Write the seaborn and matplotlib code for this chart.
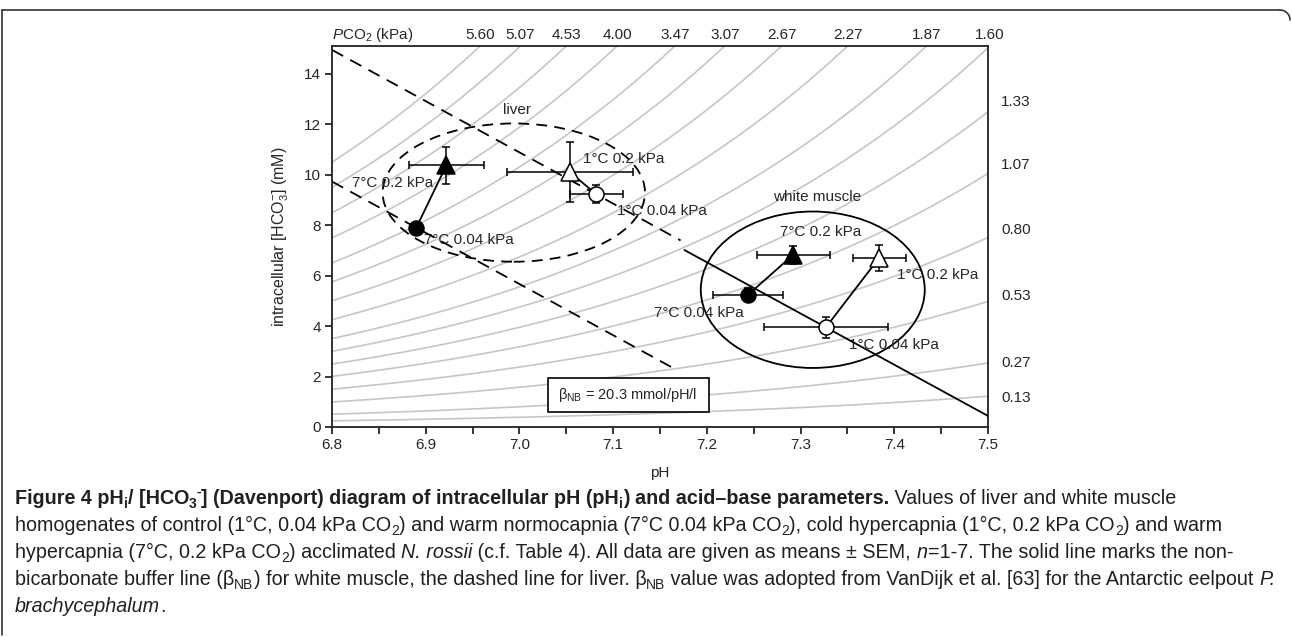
import numpy as np
import pandas as pd
import matplotlib
matplotlib.use("Agg")
import matplotlib.pyplot as plt
import seaborn as sns
from matplotlib.patches import Ellipse, Rectangle
from matplotlib.lines import Line2D
from matplotlib import font_manager

# ---------------- data ----------------
pco2_top = [5.60, 5.07, 4.53, 4.00, 3.47, 3.07, 2.67, 2.27, 1.87, 1.60]
pco2_right = [1.33, 1.07, 0.80, 0.53, 0.27, 0.13]
right_label_y = [12.9, 10.4, 7.8, 5.2, 2.55, 1.15]
pK = 6.0
alpha = 0.297         # mM / kPa
beta_nb = 20.3        # mmol/pH/l

cond_labels = ["7°C 0.04 kPa", "7°C 0.2 kPa", "1°C 0.2 kPa", "1°C 0.04 kPa"]
cond_marker = ["o", "^", "^", "o"]
cond_fill = ["black", "black", "white", "white"]

liver_ph = [6.890, 6.922, 7.054, 7.082]
liver_ph_sem = [0.0, 0.040, 0.067, 0.028]
liver_hco3 = [7.90, 10.37, 10.10, 9.22]
liver_hco3_sem = [0.0, 0.73, 1.18, 0.36]

muscle_ph = [7.244, 7.292, 7.384, 7.327]
muscle_ph_sem = [0.037, 0.039, 0.028, 0.066]
muscle_hco3 = [5.24, 6.82, 6.71, 3.95]
muscle_hco3_sem = [0.25, 0.36, 0.51, 0.42]

# ---------------- style ----------------
sns.set_theme(style="white")
plt.rcParams["font.family"] = ["Liberation Sans", "DejaVu Sans"]
plt.rcParams["mathtext.fontset"] = "custom"
plt.rcParams["mathtext.rm"] = "Liberation Sans"
plt.rcParams["mathtext.it"] = "Liberation Sans:italic"
plt.rcParams["mathtext.bf"] = "Liberation Sans:bold"

W, H = 1292, 637
fig = plt.figure(figsize=(W / 100, H / 100), dpi=100)
fig.patch.set_facecolor("white")
ax = fig.add_axes([332 / W, 1 - 427 / H, (988 - 332) / W, (427 - 46) / H])

XMIN, XMAX, YMIN, YMAX = 6.8, 7.5, 0.0, 15.1

# isopleths
ph_grid = np.linspace(XMIN, XMAX, 200)
rows = []
for P in pco2_top + pco2_right:
    for p in ph_grid:
        rows.append((p, alpha * P * 10 ** (p - pK), P))
iso = pd.DataFrame(rows, columns=["pH", "HCO3", "PCO2"])
sns.lineplot(data=iso, x="pH", y="HCO3", units="PCO2", estimator=None,
             color="#c6c6c6", lw=1.2, ax=ax, sort=False, legend=False, zorder=1)

# buffer lines
def buffer_line(p0, h0, x1, x2):
    xs = np.array([x1, x2])
    return xs, h0 - beta_nb * (xs - p0)

dash = (0, (7, 4.5))
xs, ys = buffer_line(liver_ph[3], liver_hco3[3], 6.8, 7.172)
sns.lineplot(x=xs, y=ys, color="black", lw=1.3, ax=ax, linestyle=dash, zorder=3)
xs, ys = buffer_line(liver_ph[0], liver_hco3[0], 6.8, 7.165)
sns.lineplot(x=xs, y=ys, color="black", lw=1.3, ax=ax, linestyle=dash, zorder=3)
xs, ys = buffer_line(muscle_ph[3], muscle_hco3[3], 7.176, 7.5)
sns.lineplot(x=xs, y=ys, color="black", lw=1.3, ax=ax, zorder=3)

# ellipses
ax.add_patch(Ellipse((6.994, 9.29), 0.28, 5.48, fill=False, ec="black",
                     lw=1.3, linestyle=(0, (6, 4)), zorder=2))
ax.add_patch(Ellipse((7.313, 5.44), 0.239, 6.2, fill=False, ec="black",
                     lw=1.3, zorder=2))

# connecting lines + points
for phs, phe, hc, hce in [(liver_ph, liver_ph_sem, liver_hco3, liver_hco3_sem),
                          (muscle_ph, muscle_ph_sem, muscle_hco3, muscle_hco3_sem)]:
    ax.plot([phs[0], phs[1]], [hc[0], hc[1]], color="black", lw=1.3, zorder=3)
    ax.plot([phs[3], phs[2]], [hc[3], hc[2]], color="black", lw=1.3, zorder=3)
    for i in range(4):
        ax.errorbar(phs[i], hc[i], xerr=phe[i] or None, yerr=hce[i] or None,
                    fmt="none", ecolor="black", elinewidth=1.1, capsize=3,
                    capthick=1.1, zorder=4)
        ms = 10.8 if cond_marker[i] == "o" else 13
        ax.plot(phs[i], hc[i], marker=cond_marker[i], ms=ms, mfc=cond_fill[i],
                mec="black", mew=1.1, ls="none", zorder=5)

# annotations
fs = 11
liver_text_pos = [(6.946, 7.42, "center"), (6.865, 9.68, "center"),
                  (7.111, 10.63, "center"), (7.152, 8.57, "center")]
muscle_text_pos = [(7.239, 4.52, "right"), (7.321, 7.74, "center"),
                   (7.446, 6.03, "center"), (7.40, 3.25, "center")]
for (x, y, ha), lab in zip(liver_text_pos, cond_labels):
    ax.text(x, y, lab, fontsize=fs, ha=ha, va="center", zorder=2)
for (x, y, ha), lab in zip(muscle_text_pos, cond_labels):
    ax.text(x, y, lab, fontsize=fs, ha=ha, va="center", zorder=2)
ax.text(6.997, 12.58, "liver", fontsize=fs, ha="center", va="center")
ax.text(7.318, 9.13, "white muscle", fontsize=fs, ha="center", va="center")

# beta box
ax.add_patch(Rectangle((7.03, 0.6), 0.172, 1.35, fill=True, fc="white",
                       ec="black", lw=1.2, zorder=6))
ax.text(7.116, 1.27, r"β$_{\mathregular{NB}}$ = 20.3 mmol/pH/l", fontsize=10.5,
        ha="center", va="center", zorder=7)

# axes
ax.set_xlim(XMIN, XMAX)
ax.set_ylim(YMIN, YMAX)
ax.set_xticks(np.round(np.arange(6.8, 7.501, 0.1), 2))
ax.set_xticklabels([f"{v:.1f}" for v in np.arange(6.8, 7.501, 0.1)])
ax.set_xticks(np.arange(6.85, 7.5, 0.1), minor=True)
ax.set_yticks(np.arange(0, 15, 2))
ax.tick_params(axis="both", which="both", direction="out", length=5, width=1.1,
               color="black", labelsize=11, pad=3, bottom=True, left=True)
ax.tick_params(axis="x", which="minor", length=5)
for s in ax.spines.values():
    s.set_color("#222222")
    s.set_linewidth(1.3)
ax.set_xlabel("pH", fontsize=11, labelpad=10)
ax.set_ylabel(r"intracellular [HCO$_3^{-}$] (mM)", fontsize=11.5, labelpad=9)

# PCO2 labels
for P in pco2_top:
    x = pK + np.log10(YMAX / (alpha * P))
    ax.annotate(f"{P:.2f}", (x, YMAX), xytext=(0, 8), textcoords="offset points",
                ha="center", va="center", fontsize=11, annotation_clip=False)
for P, y in zip(pco2_right, right_label_y):
    ax.annotate(f"{P:.2f}", (XMAX, y), xytext=(9.5, 0), textcoords="offset points",
                ha="left", va="center", fontsize=11, annotation_clip=False)
ax.annotate(r"$\mathit{P}$CO$_2$ (kPa)", (XMIN, YMAX), xytext=(0, 8),
            textcoords="offset points", ha="left", va="center", fontsize=11,
            annotation_clip=False)

# figure border
fig.add_artist(Line2D([2 / W, 2 / W], [1 - 10 / H, 2 / H], color="#333333", lw=1.2))
fig.add_artist(Line2D([2 / W, 1280 / W], [1 - 10 / H, 1 - 10 / H], color="#333333", lw=1.2))
th = np.linspace(np.pi / 2, 0, 20)
fig.add_artist(Line2D((1280 + 10 * np.cos(th)) / W, (H - 20 + 10 * np.sin(th)) / H,
                      color="#333333", lw=1.2))

# caption (rich text)
def pick_font(cands):
    for c in cands:
        try:
            font_manager.findfont(font_manager.FontProperties(family=c),
                                  fallback_to_default=False)
            return c
        except Exception:
            pass
    return "DejaVu Sans"

cap_font = pick_font(["Liberation Sans Narrow", "Liberation Sans"])
fig.canvas.draw()
renderer = fig.canvas.get_renderer()

def text_width(s, size, weight, style):
    t1 = fig.text(0, 0, "|" + s + "|", fontsize=size, fontweight=weight,
                  fontstyle=style, family=[cap_font, "DejaVu Sans"])
    t2 = fig.text(0, 0, "||", fontsize=size, fontweight=weight,
                  fontstyle=style, family=[cap_font, "DejaVu Sans"])
    w = t1.get_window_extent(renderer).width - t2.get_window_extent(renderer).width
    t1.remove(); t2.remove()
    return w

def run_props(fmt, size):
    weight = "bold" if "b" in fmt else "normal"
    style = "italic" if "i" in fmt else "normal"
    sz = size * 0.7 if ("s" in fmt or "p" in fmt) else size
    dy = 0
    if "s" in fmt:
        dy = -0.22 * size * 100 / 72
    if "p" in fmt:
        dy = 0.42 * size * 100 / 72
    return weight, style, sz, dy

def line_width(runs, size):
    tot = 0
    for text, fmt in runs:
        weight, style, sz, dy = run_props(fmt, size)
        tot += text_width(text, sz, weight, style)
    return tot

def draw_line(runs, x0, ybase, size):
    x = x0
    for text, fmt in runs:
        weight, style, sz, dy = run_props(fmt, size)
        fig.text(x / W, 1 - (ybase - dy) / H, text, fontsize=sz, fontweight=weight,
                 fontstyle=style, family=[cap_font, "DejaVu Sans"], va="baseline",
                 ha="left", color="#231f20")
        x += text_width(text, sz, weight, style)

cap_lines = [
    [("Figure 4 pH", "b"), ("i", "bs"), ("/ [HCO", "b"), ("3", "bs"), ("-", "bp"),
     ("] (Davenport) diagram of intracellular pH (pH", "b"), ("i", "bs"),
     (") and acid–base parameters.", "b"), (" Values of liver and white muscle", "")],
    [("homogenates of control (1°C, 0.04 kPa CO", ""), ("2", "s"),
     (") and warm normocapnia (7°C 0.04 kPa CO", ""), ("2", "s"),
     ("), cold hypercapnia (1°C, 0.2 kPa CO", ""), ("2", "s"), (") and warm", "")],
    [("hypercapnia (7°C, 0.2 kPa CO", ""), ("2", "s"), (") acclimated ", ""),
     ("N. rossii", "i"), (" (c.f. Table 4). All data are given as means ± SEM, ", ""),
     ("n", "i"), ("=1-7. The solid line marks the non-", "")],
    [("bicarbonate buffer line (β", ""), ("NB", "s"),
     (") for white muscle, the dashed line for liver. β", ""), ("NB", "s"),
     (" value was adopted from VanDijk et al. [63] for the Antarctic eelpout ", ""),
     ("P.", "i")],
    [("brachycephalum", "i"), (".", "")],
]
base = 10.0
w4 = line_width(cap_lines[3], base)
cap_size = base * 1265 / w4
baselines = [504, 531, 558, 585, 612]
for runs, yb in zip(cap_lines, baselines):
    draw_line(runs, 15, yb, cap_size)

fig.savefig("out.png", dpi=100, facecolor="white")
